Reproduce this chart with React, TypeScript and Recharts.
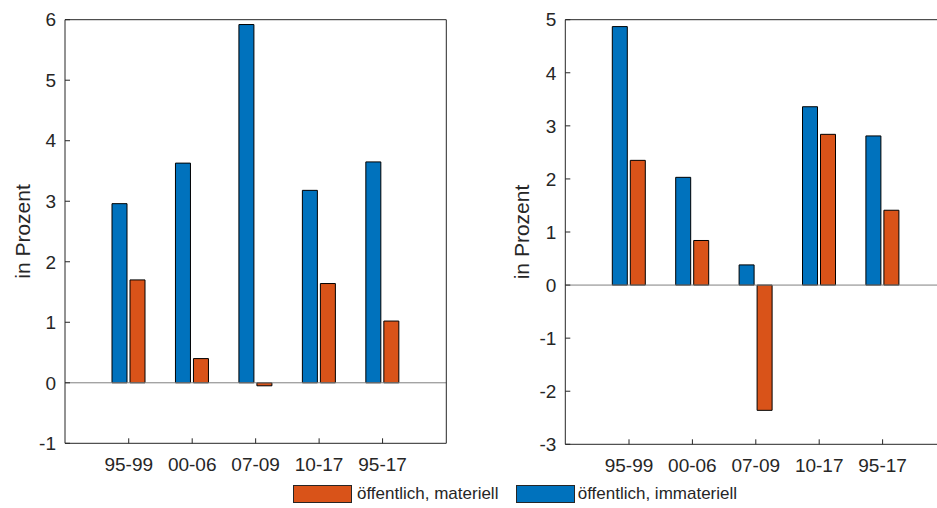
import React from 'react'
import { BarChart, Bar, XAxis, YAxis, ReferenceLine } from 'recharts'

// Zeiträume und Werte (in Prozent)
const periods = ['95-99', '00-06', '07-09', '10-17', '95-17']

const leftImmateriell = [2.96, 3.63, 5.92, 3.18, 3.65]
const leftMateriell = [1.7, 0.4, -0.05, 1.64, 1.02]

const rightImmateriell = [4.87, 2.03, 0.38, 3.36, 2.81]
const rightMateriell = [2.35, 0.84, -2.36, 2.84, 1.41]

const leftTicks = [-1, 0, 1, 2, 3, 4, 5, 6]
const rightTicks = [-3, -2, -1, 0, 1, 2, 3, 4, 5]

const BLUE = '#0072BD'
const ORANGE = '#D95319'
const AXIS = '#262626'
const FONT = '"Liberation Sans", Arial, Helvetica, sans-serif'

const build = (imm: number[], mat: number[]) =>
  periods.map((p, i) => ({ period: p, immateriell: imm[i], materiell: mat[i] }))

interface PanelProps {
  data: { period: string; immateriell: number; materiell: number }[]
  ticks: number[]
  width: number
  yWidth: number
  margin: { top: number; right: number; bottom: number; left: number }
  labelDx: number
}

function Panel({ data, ticks, width, yWidth, margin, labelDx }: PanelProps) {
  const domain: [number, number] = [ticks[0], ticks[ticks.length - 1]]
  const tickStyle = { fontSize: 19, fill: AXIS, fontFamily: FONT }
  return (
    <BarChart width={width} height={508} data={data} margin={margin} barSize={15} barGap={3}>
      <XAxis
        dataKey="period" type="category" height={40} stroke={AXIS}
        padding={{ left: 32, right: 32 }} tickSize={-5} tickMargin={19.4}
        tick={tickStyle} interval={0}
      />
      <XAxis
        xAxisId="top" orientation="top" dataKey="period" type="category" height={1}
        stroke={AXIS} padding={{ left: 32, right: 32 }} tickSize={-5} tick={false} interval={0}
      />
      <YAxis
        type="number" domain={domain} ticks={ticks} interval={0} width={yWidth}
        stroke={AXIS} tickSize={-5} tickMargin={14} tick={tickStyle}
        label={{
          value: 'in Prozent', angle: -90, position: 'center', dx: labelDx,
          style: { fontSize: 21, fill: AXIS, fontFamily: FONT, textAnchor: 'middle' },
        }}
      />
      <YAxis
        yAxisId="r" orientation="right" type="number" domain={domain} ticks={ticks}
        interval={0} width={1} stroke={AXIS} tickSize={-5} tick={false}
      />
      <ReferenceLine y={0} stroke="#808080" strokeWidth={1} />
      <Bar dataKey="immateriell" fill={BLUE} stroke="#000" strokeWidth={1} isAnimationActive={false} />
      <Bar dataKey="materiell" fill={ORANGE} stroke="#000" strokeWidth={1} isAnimationActive={false} />
    </BarChart>
  )
}

const swatch = (left: number, color: string): React.CSSProperties => ({
  position: 'absolute', left, top: 485, width: 57, height: 16,
  background: color, border: `1px solid ${AXIS}`,
})

const legendText = (left: number): React.CSSProperties => ({
  position: 'absolute', left, top: 483, fontSize: 17, lineHeight: '22px',
  color: AXIS, fontFamily: FONT, whiteSpace: 'nowrap',
})

export default function App() {
  return (
    <div style={{
      position: 'absolute', left: 0, top: 0, width: 937, height: 508,
      overflow: 'hidden', background: '#fff', fontFamily: FONT,
    }}>
      <div style={{ position: 'absolute', left: 0, top: 0 }}>
        <Panel
          data={build(leftImmateriell, leftMateriell)} ticks={leftTicks}
          width={470} yWidth={65}
          margin={{ top: 18.7, right: 22.7, bottom: 24.7, left: 0 }} labelDx={-10}
        />
      </div>
      <div style={{ position: 'absolute', left: 470, top: 0 }}>
        <Panel
          data={build(rightImmateriell, rightMateriell)} ticks={rightTicks}
          width={490} yWidth={95.3}
          margin={{ top: 18.7, right: 12.7, bottom: 23.7, left: 0 }} labelDx={4}
        />
      </div>
      <div style={swatch(293, ORANGE)} />
      <div style={legendText(357)}>öffentlich, materiell</div>
      <div style={swatch(515.7, BLUE)} />
      <div style={legendText(577.7)}>öffentlich, immateriell</div>
    </div>
  )
}
